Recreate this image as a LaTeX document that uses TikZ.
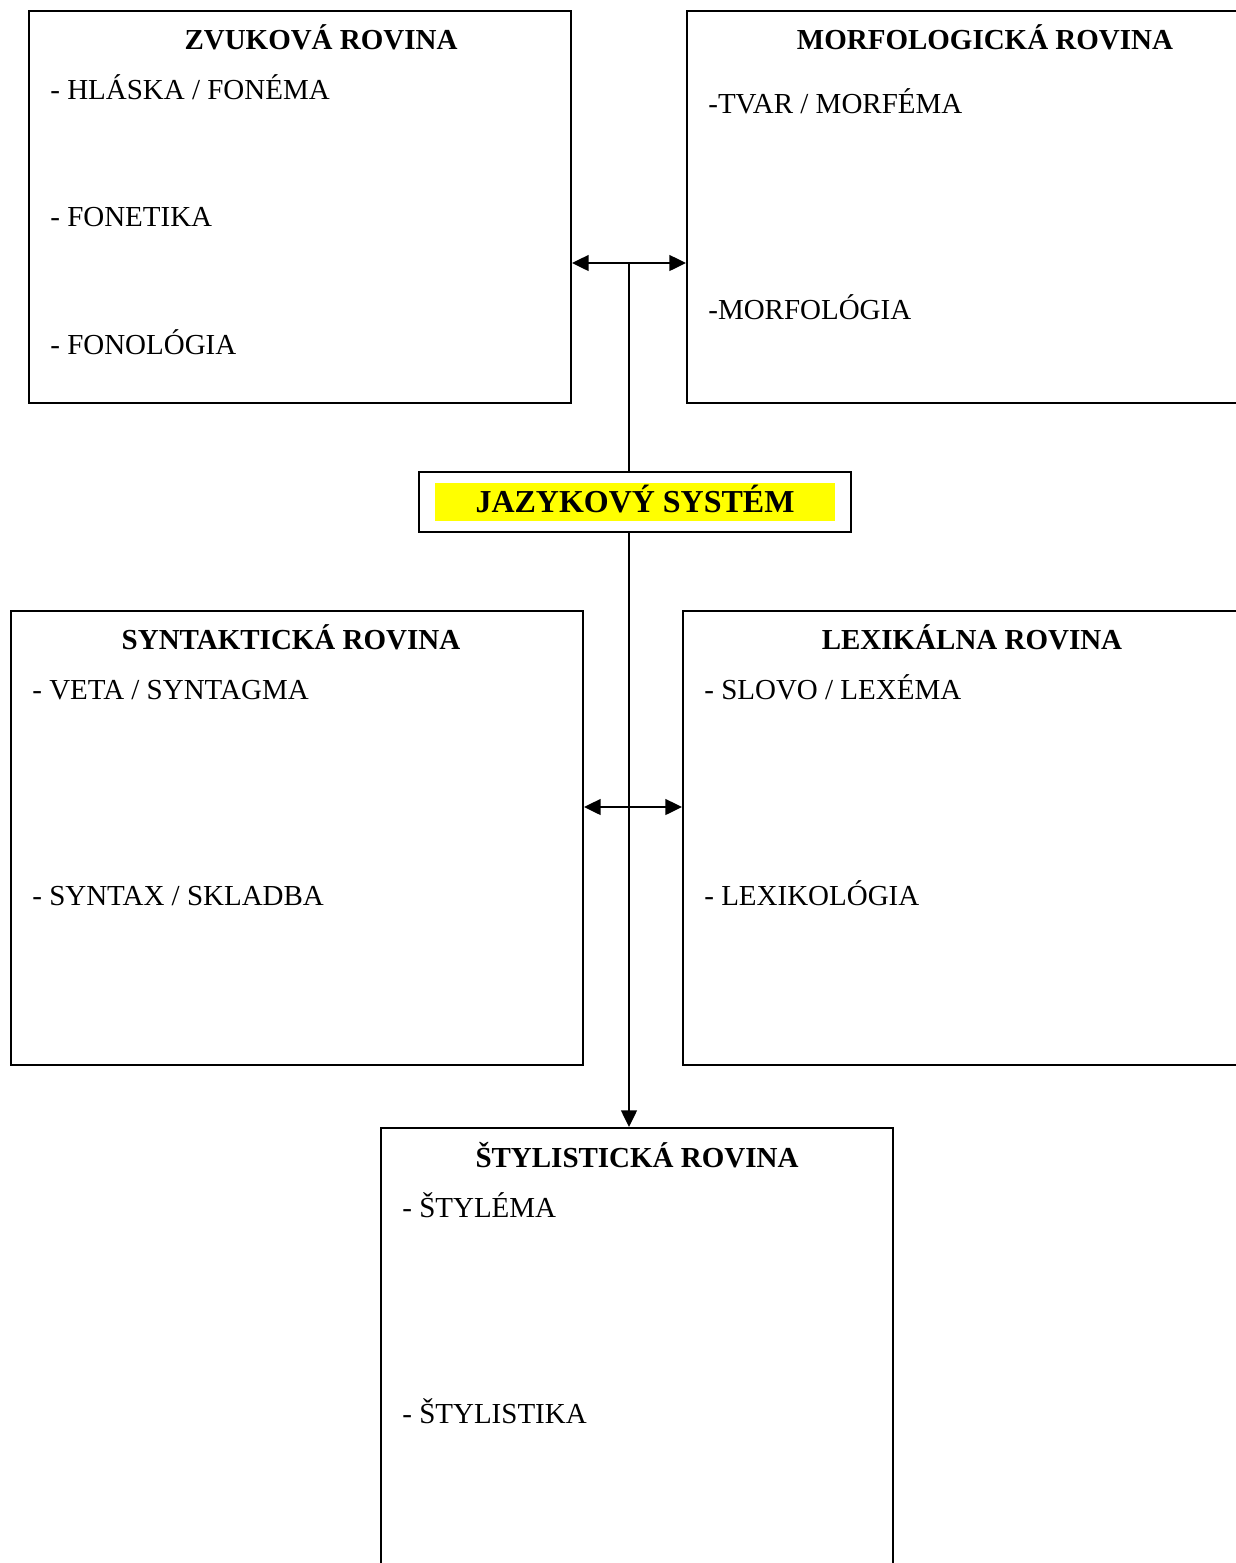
\documentclass[tikz,border=0pt]{standalone}
\usepackage{fontspec}
\setmainfont{Liberation Serif}
\usetikzlibrary{arrows.meta,fit}
\tikzstyle{rovina}=[draw, line width=1.1pt, inner sep=0pt]
\tikzstyle{nadpis}=[anchor=base, inner sep=0pt, font=\fontsize{16.5}{20}\selectfont\bfseries]
\tikzstyle{polozka}=[anchor=base west, inner sep=0pt, font=\fontsize{16.5}{20}\selectfont]
\tikzstyle{spoj}=[line width=1.1pt]
\tikzstyle{sipka}=[spoj, -{Triangle[length=9.5pt,width=9pt]}]
\tikzstyle{dvojsipka}=[spoj, {Triangle[length=9.5pt,width=9pt]}-{Triangle[length=9.5pt,width=9pt]}]

\begin{document}
\begin{tikzpicture}[x=0.02cm, y=-0.02cm]
 \useasboundingbox (0,0) rectangle (1236,1563);
 \clip (0,0) rectangle (1236,1563);
%
 \node[rovina, fit={(29,11) (571,403)}] (zvuk) {};
 \node[rovina, fit={(687,11) (1283,403)}] (morf) {};
 \node[rovina, fit={(11,611) (583,1065)}] (synt) {};
 \node[rovina, fit={(683,611) (1261,1065)}] (lex) {};
 \node[rovina, fit={(381,1128) (893,1620)}] (styl) {};
%
 \node[rovina, fit={(419,472) (851,532)}] (system) {};
 \node[fill={rgb,255:red,255;green,255;blue,0}, minimum width=8cm, minimum height=0.76cm, text height=12pt, text depth=0pt,
  inner sep=0pt, font=\fontsize{18.2}{22}\selectfont\bfseries] (systemtext) at (635,502) {JAZYKOVÝ SYSTÉM};
%
 \node[nadpis] (zvuknadpis) at (321,49) {ZVUKOVÁ ROVINA};
 \node[polozka] (hlaska) at (50,99) {- HLÁSKA / FONÉMA};
 \node[polozka] (fonetika) at (50,226) {- FONETIKA};
 \node[polozka] (fonologia) at (50,354) {- FONOLÓGIA};
%
 \node[nadpis] (morfnadpis) at (985,49) {MORFOLOGICKÁ ROVINA};
 \node[polozka] (tvar) at (708,113) {-TVAR / MORFÉMA};
 \node[polozka] (morfologia) at (708,319) {-MORFOLÓGIA};
%
 \node[nadpis] (syntnadpis) at (291,649) {SYNTAKTICKÁ ROVINA};
 \node[polozka] (veta) at (32,699) {- VETA / SYNTAGMA};
 \node[polozka] (syntax) at (32,905) {- SYNTAX / SKLADBA};
%
 \node[nadpis] (lexnadpis) at (972,649) {LEXIKÁLNA ROVINA};
 \node[polozka] (slovo) at (704,699) {- SLOVO / LEXÉMA};
 \node[polozka] (lexikologia) at (704,905) {- LEXIKOLÓGIA};
%
 \node[nadpis] (stylnadpis) at (637,1167) {ŠTYLISTICKÁ ROVINA};
 \node[polozka] (stylema) at (402,1217) {- ŠTYLÉMA};
 \node[polozka] (stylistika) at (402,1423) {- ŠTYLISTIKA};
%
 \coordinate (hore) at (629,263);
 \coordinate (dole) at (629,807);
 \draw[dvojsipka] (zvuk.east |- hore) -- (morf.west |- hore);
 \draw[spoj] (hore) -- (hore |- system.north);
 \draw[sipka] (hore |- system.south) -- (hore |- styl.north);
 \draw[dvojsipka] (synt.east |- dole) -- (lex.west |- dole);
\end{tikzpicture}
\end{document}
